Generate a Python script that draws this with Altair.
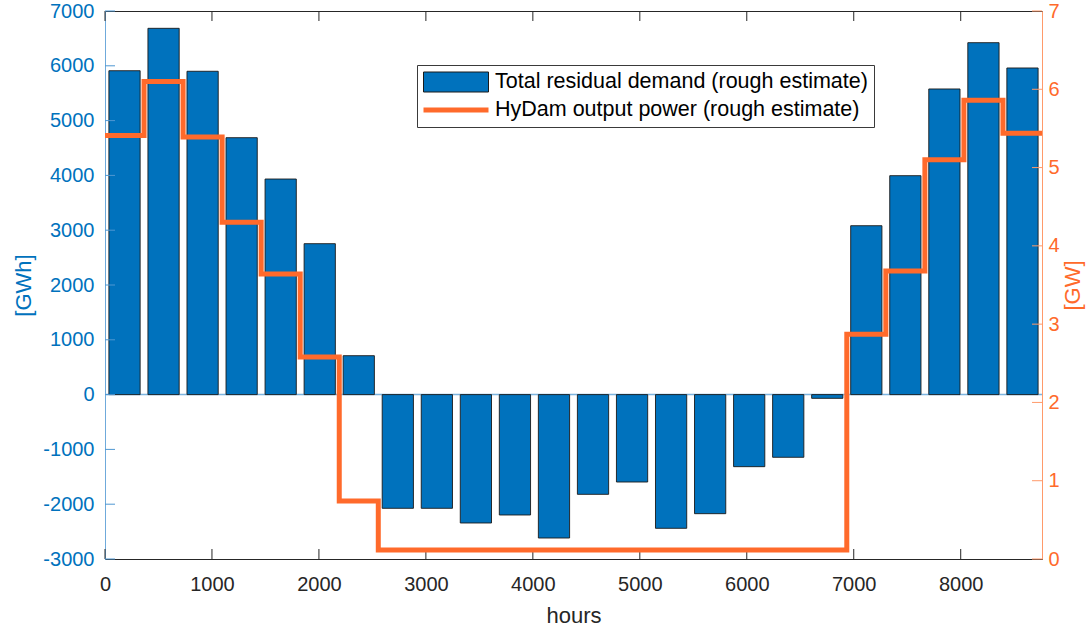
import altair as alt
import pandas as pd

# ---- data ----
step_hours = 365
demand_gwh = [5910, 6684, 5900, 4688, 3934, 2754, 710,
              -2075, -2075, -2343, -2197, -2617, -1820, -1595, -2440, -2173, -1315, -1144, -68,
              3082, 3995, 5577, 6422, 5960]
hydam_gw = [5.41, 6.10, 5.39, 4.30, 3.64, 2.58, 0.74,
            0.115, 0.115, 0.115, 0.115, 0.115, 0.115, 0.115, 0.115, 0.115, 0.115, 0.115, 0.115,
            2.87, 3.68, 5.10, 5.86, 5.44]
x_ticks = [0, 1000, 2000, 3000, 4000, 5000, 6000, 7000, 8000]
left_ticks = [-3000, -2000, -1000, 0, 1000, 2000, 3000, 4000, 5000, 6000, 7000]
right_ticks = [0, 1, 2, 3, 4, 5, 6, 7]
label_bar = "Total residual demand (rough estimate)"
label_line = "HyDam output power (rough estimate)"

BLUE = "#0072BD"
ORANGE = "#FF6A2B"
DARK = "#262626"
FONT = "Liberation Sans"
W, H = 937, 548

n = len(demand_gwh)
bars = pd.DataFrame({
    "x": [i * step_hours + 0.1 * step_hours for i in range(n)],
    "x1": [(i + 1) * step_hours - 0.1 * step_hours for i in range(n)],
    "demand": demand_gwh,
    "base": [0] * n,
    "series": [label_bar] * n,
})
line = pd.DataFrame({
    "x": [i * step_hours for i in range(n + 1)],
    "power": hydam_gw + [hydam_gw[-1]],
})
xt = pd.DataFrame({"x": x_ticks})
lt = pd.DataFrame({"v": left_ticks})
rt = pd.DataFrame({"v": right_ticks, "x": [0] * len(right_ticks)})

x_scale = alt.Scale(domain=[0, 8760], nice=False, zero=False)
yl_scale = alt.Scale(domain=[-3000, 7000], nice=False, zero=False)
yr_scale = alt.Scale(domain=[0, 7], nice=False, zero=False)

PLAIN = "'' + datum.value"

x_axis = alt.Axis(values=x_ticks, title="hours", grid=False, ticks=False,
                  labelExpr=PLAIN,
                  labelFont=FONT, labelFontSize=20, labelColor=DARK,
                  labelBaseline="alphabetic", labelPadding=31, labelFlush=False,
                  domainColor=DARK,
                  titleFont=FONT, titleFontSize=22, titleFontWeight="normal",
                  titleColor=DARK, titleY=63, titleBaseline="alphabetic")
yl_axis = alt.Axis(values=left_ticks, title="[GWh]", grid=False, ticks=False,
                   labelExpr=PLAIN,
                   labelFont=FONT, labelFontSize=20, labelColor=BLUE, labelPadding=11,
                   labelFlush=False, domainColor="#6FAADB",
                   titleFont=FONT, titleFontSize=22, titleFontWeight="normal",
                   titleColor=BLUE, titleAngle=270, titleX=-82, titleY=274,
                   titleAlign="center", titleBaseline="middle")
yr_axis = alt.Axis(orient="right", values=right_ticks, title="[GW]", grid=False,
                   ticks=False, labelExpr=PLAIN, labelFont=FONT, labelFontSize=20,
                   labelColor=ORANGE, labelPadding=6, labelFlush=False,
                   domainColor="#FF9A6A",
                   titleFont=FONT, titleFontSize=22, titleFontWeight="normal",
                   titleColor=ORANGE, titleAngle=270, titleX=30.5, titleY=274,
                   titleAlign="center", titleBaseline="middle")

X = alt.X("x:Q", scale=x_scale, axis=x_axis)

baseline = alt.Chart(pd.DataFrame({"v": [0]})).mark_rule(color="#7DB5E0", strokeWidth=1.5).encode(
    y=alt.Y("v:Q", scale=yl_scale, axis=None)
)

bar_layer = alt.Chart(bars).mark_bar(stroke="#1a1a1a", strokeWidth=0.9).encode(
    x=X,
    x2="x1:Q",
    y=alt.Y("demand:Q", scale=yl_scale, axis=yl_axis),
    y2="base:Q",
    color=alt.Color("series:N",
                    scale=alt.Scale(domain=[label_bar, label_line], range=[BLUE, ORANGE]),
                    legend=alt.Legend(
                        title=None, orient="none", legendX=312, legendY=54,
                        fillColor="white", strokeColor="#3a3a3a", padding=6,
                        rowPadding=6, clipHeight=22,
                        symbolSize=4225,
                        symbolType={"expr": "datum.index === 0 ? 'M-1,-0.3077H1V0.3077H-1Z' : 'M-1,-0.077H1V0.077H-1Z'"},
                        symbolStrokeColor={"expr": "datum.index === 0 ? '#1a1a1a' : 'transparent'"},
                        symbolStrokeWidth=1, symbolOpacity=1,
                        labelFont=FONT, labelFontSize=21.5, labelColor="black",
                        labelOffset=6, labelLimit=1000)),
)

xt_bottom = alt.Chart(xt).mark_rule(color=DARK, strokeWidth=1).encode(
    x=X, y=alt.value(H), y2=alt.value(H - 10))
xt_top = alt.Chart(xt).mark_rule(color=DARK, strokeWidth=1).encode(
    x=X, y=alt.value(0), y2=alt.value(10))
lt_rules = alt.Chart(lt).mark_rule(color="#4F97D2", strokeWidth=1).encode(
    y=alt.Y("v:Q", scale=yl_scale, axis=None), x=alt.value(0), x2=alt.value(10))

line_layer = alt.Chart(line).mark_line(interpolate="step-after", color=ORANGE, strokeWidth=5).encode(
    x=X,
    y=alt.Y("power:Q", scale=yr_scale, axis=yr_axis),
)
rt_rules = alt.Chart(rt).mark_rule(color="#FF9A6A", strokeWidth=1).encode(
    y=alt.Y("v:Q", scale=yr_scale, axis=None), x=alt.value(W), x2=alt.value(W - 10))

chart = alt.layer(baseline, bar_layer, xt_bottom, xt_top, lt_rules, line_layer, rt_rules
                  ).resolve_scale(y="independent").properties(
    width=W, height=H,
    autosize=alt.AutoSizeParams(type="none"),
    padding={"left": 105, "top": 11, "right": 45, "bottom": 71},
    background="white",
).configure_view(stroke=DARK, strokeWidth=1)

chart.save("out.html", embed_options={"renderer": "svg", "actions": False})
